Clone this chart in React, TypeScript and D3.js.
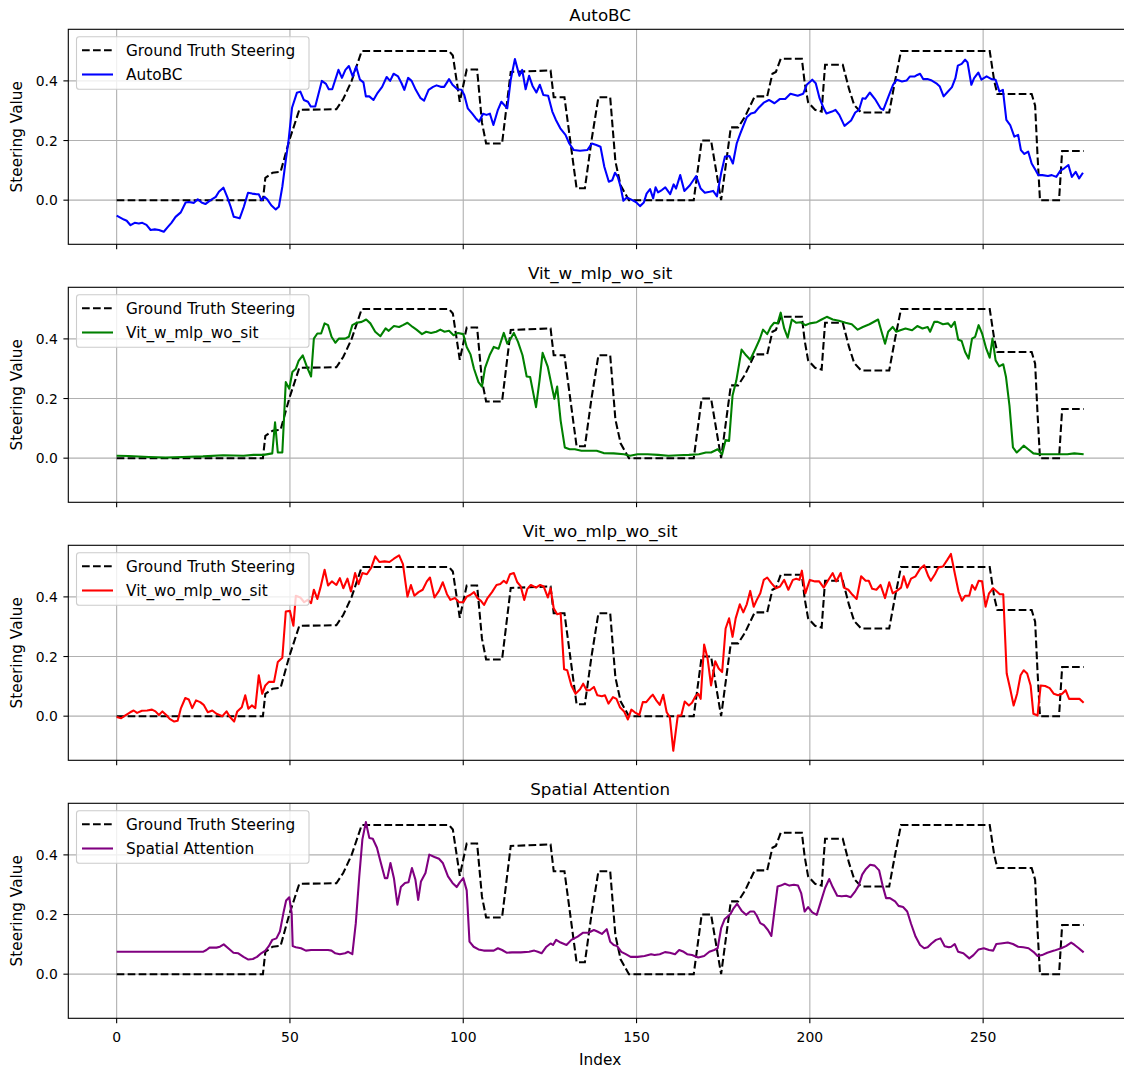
import React from "react";
import * as d3 from "d3";

type Pt = [number, number];

// Ground truth steering (shared by all four panels), read as index/value breakpoints
const gtSteering: Pt[] = [
  [0, 0], [42.2, 0], [42.9, 0.075], [45, 0.092], [47.3, 0.095], [49.8, 0.2], [52.7, 0.303],
  [63.4, 0.305], [65.4, 0.34], [67.8, 0.4], [70.7, 0.5], [95.9, 0.5], [97, 0.485],
  [99, 0.33], [101, 0.438], [104, 0.438], [105.4, 0.26], [106.6, 0.19], [111.2, 0.19],
  [113.7, 0.43], [125.2, 0.435], [126.1, 0.345], [129.2, 0.345], [132.7, 0.04],
  [135.1, 0.04], [137, 0.2], [139, 0.345], [142.4, 0.345], [143.9, 0.13], [145.4, 0.05],
  [147.8, 0], [166.5, 0], [168.8, 0.2], [171.5, 0.2], [174.4, 0], [177.2, 0.244],
  [179.3, 0.244], [181.3, 0.28], [182.8, 0.317], [184.1, 0.348], [187.7, 0.348],
  [189.2, 0.424], [190.2, 0.43], [191.6, 0.474], [197.7, 0.474], [198.5, 0.395],
  [199.5, 0.328], [201.5, 0.303], [203.4, 0.297], [204.4, 0.454], [209.5, 0.454],
  [211.3, 0.373], [212.8, 0.319], [214.8, 0.294], [222.9, 0.294], [224.5, 0.395],
  [226.3, 0.5], [251.9, 0.5], [253.2, 0.4], [254.1, 0.356], [264, 0.356], [265, 0.317],
  [265.7, 0.148], [266.4, 0], [271.9, 0], [272.8, 0.165], [279, 0.165],
];

const autoBc: Pt[] = [
  [0, -0.052], [2.1, -0.065], [2.9, -0.069], [4, -0.084], [5.2, -0.076], [6.4, -0.078],
  [7.4, -0.076], [8.6, -0.083], [9.8, -0.1], [11, -0.098], [12.2, -0.1], [13.6, -0.106],
  [14.6, -0.092], [15.8, -0.076], [17, -0.056], [18.5, -0.041], [19.9, -0.008],
  [20.8, -0.006], [22.3, -0.009], [23.4, 0.003], [24.5, -0.008], [25.6, -0.013], [27.1, 0],
  [28.6, 0.011], [29.5, 0.028], [30.8, 0.042], [31.9, 0.011], [32.9, -0.022],
  [33.8, -0.056], [35.5, -0.061], [36.7, -0.022], [37.9, 0.025], [39.1, 0.022],
  [40.4, 0.02], [41, 0.02], [41.8, 0], [42.7, 0.011], [43.5, 0.002], [44.6, -0.017],
  [45.9, -0.031], [46.8, -0.022], [47.8, 0.045], [48.8, 0.134], [49.6, 0.2], [50.6, 0.31],
  [52, 0.36], [53, 0.364], [54, 0.336], [55.2, 0.33], [56, 0.314], [57.3, 0.314],
  [59.2, 0.4], [60.4, 0.39], [61.2, 0.372], [62.2, 0.372], [64, 0.437], [65, 0.41],
  [66, 0.437], [67, 0.45], [68.1, 0.415], [69.1, 0.448], [70.2, 0.404], [71.2, 0.395],
  [71.9, 0.348], [72.9, 0.348], [74.1, 0.336], [75.3, 0.36], [76.6, 0.38], [77.9, 0.413],
  [78.9, 0.4], [79.9, 0.424], [81.2, 0.415], [82.2, 0.392], [83, 0.37], [84.1, 0.41],
  [85.1, 0.4], [86.3, 0.37], [87.7, 0.342], [88.7, 0.334], [90, 0.37], [91.3, 0.38],
  [92.3, 0.385], [93.5, 0.38], [94.5, 0.38], [95.9, 0.406], [96.9, 0.387], [98.3, 0.372],
  [99.5, 0.37], [100.3, 0.353], [101.3, 0.308], [102.6, 0.29], [103.6, 0.275],
  [104.6, 0.263], [105.7, 0.29], [106.7, 0.286], [107.7, 0.29], [108.7, 0.252],
  [110, 0.303], [111, 0.33], [112.7, 0.308], [113.7, 0.404], [114.9, 0.473],
  [116.2, 0.417], [117, 0.437], [118, 0.372], [119, 0.417], [120, 0.383], [121.1, 0.361],
  [122.1, 0.387], [123.1, 0.353], [124.5, 0.35], [125.7, 0.297], [126.7, 0.27],
  [128, 0.241], [129.5, 0.219], [130.6, 0.19], [131.9, 0.168], [133.7, 0.166],
  [135.8, 0.168], [137.1, 0.19], [138.4, 0.185], [139.6, 0.179], [140.7, 0.112],
  [142, 0.062], [143, 0.067], [143.8, 0.092], [144.6, 0.078], [145.4, 0.045],
  [146.2, -0.002], [147.2, 0.009], [148.5, 0.002], [149.8, -0.006], [151, -0.02],
  [152.1, -0.008], [152.9, 0.022], [153.9, 0.037], [154.8, 0.006], [155.5, 0.043],
  [156.2, 0.026], [157.3, 0.034], [158.3, 0.043], [159.7, 0.02], [160.7, 0.053],
  [161.4, 0.039], [162.6, 0.084], [163.8, 0.031], [165.4, 0.05], [167.2, 0.081],
  [168.5, 0.039], [169.7, 0.025], [171.1, 0.028], [172.1, 0.031], [173.2, 0.013],
  [174.4, 0.09], [175.5, 0.146], [176.8, 0.148], [177.8, 0.123], [178.9, 0.19],
  [179.9, 0.222], [180.9, 0.252], [181.8, 0.278], [183, 0.291], [184.1, 0.294],
  [185.1, 0.308], [186.7, 0.327], [188.2, 0.336], [189.8, 0.325], [191.3, 0.339],
  [192.9, 0.339], [194.4, 0.357], [196.5, 0.35], [198.1, 0.357], [199.1, 0.387],
  [200.7, 0.404], [201.7, 0.392], [202.8, 0.342], [204, 0.308], [204.8, 0.291],
  [206.4, 0.297], [207.4, 0.303], [208.5, 0.286], [210, 0.249], [211.9, 0.267],
  [213.1, 0.294], [214.2, 0.303], [215.2, 0.342], [216, 0.34], [217.3, 0.361],
  [218.8, 0.339], [220.4, 0.308], [221.2, 0.303], [222.7, 0.348], [224, 0.387],
  [225.1, 0.404], [226.6, 0.398], [227.9, 0.401], [228.9, 0.415], [230.3, 0.415],
  [231, 0.42], [231.8, 0.424], [232.7, 0.406], [233.9, 0.406], [235.2, 0.401],
  [236.5, 0.392], [237.5, 0.381], [238.6, 0.348], [239.6, 0.361], [241, 0.379],
  [242, 0.409], [242.7, 0.451], [243.8, 0.457], [244.8, 0.471], [245.5, 0.462],
  [246.6, 0.387], [247.4, 0.409], [248.6, 0.428], [249.5, 0.404], [251, 0.415],
  [252.4, 0.406], [253.6, 0.404], [254.7, 0.364], [255.7, 0.37], [256.7, 0.269],
  [257.8, 0.252], [259, 0.213], [260.1, 0.219], [260.9, 0.168], [261.9, 0.155],
  [263, 0.163], [264, 0.123], [265.1, 0.101], [265.9, 0.084], [267.1, 0.084],
  [268.7, 0.081], [269.8, 0.084], [271.1, 0.078], [272.3, 0.099], [273.4, 0.107],
  [274.6, 0.118], [275.6, 0.078], [276.7, 0.095], [277.7, 0.073], [278.8, 0.092],
];

const vitWMlpWoSit: Pt[] = [
  [0, 0.008], [3.4, 0.007], [9.3, 0.004], [14.1, 0.002], [19, 0.004], [24.9, 0.006],
  [30.7, 0.01], [36.6, 0.008], [39.5, 0.011], [42.4, 0.011], [44.9, 0.016], [45.7, 0.12],
  [46.5, 0.019], [47.8, 0.019], [48.8, 0.255], [49.8, 0.233], [50.7, 0.289], [51.7, 0.3],
  [52.5, 0.326], [53.7, 0.345], [54.9, 0.306], [56.1, 0.274], [56.9, 0.401], [57.9, 0.418],
  [59, 0.418], [60, 0.452], [61, 0.446], [62, 0.407], [63.1, 0.387], [64.1, 0.401],
  [65.9, 0.401], [67, 0.407], [68, 0.446], [69.3, 0.454], [70.7, 0.457], [72, 0.465],
  [73.2, 0.452], [74.6, 0.424], [76.1, 0.409], [77.6, 0.435], [78.5, 0.427], [80, 0.443],
  [81.5, 0.44], [82.6, 0.446], [83.9, 0.454], [85.4, 0.44], [86.5, 0.431], [88.1, 0.416],
  [89.3, 0.424], [90.7, 0.42], [92.2, 0.424], [93.4, 0.431], [94.6, 0.424], [95.9, 0.427],
  [97.2, 0.412], [98.5, 0.42], [100, 0.416], [101, 0.373], [102.1, 0.348], [103.1, 0.3],
  [104.4, 0.255], [105.4, 0.24], [106.3, 0.303], [107.6, 0.345], [108.8, 0.373],
  [110.2, 0.367], [111.7, 0.42], [112.7, 0.384], [113.7, 0.401], [114.6, 0.42],
  [115.8, 0.39], [117.1, 0.345], [118.3, 0.274], [119.3, 0.272], [121, 0.171],
  [122, 0.26], [122.9, 0.353], [124.4, 0.306], [125.6, 0.238], [126.3, 0.199],
  [127.1, 0.24], [128.1, 0.126], [129.3, 0.036], [130.7, 0.03], [132.2, 0.03],
  [134.1, 0.025], [136.1, 0.025], [138.5, 0.025], [140.5, 0.017], [143.4, 0.016],
  [146.4, 0.013], [148.1, 0.008], [150.3, 0.013], [153.2, 0.013], [156.2, 0.011],
  [159.2, 0.008], [162.1, 0.01], [165.1, 0.011], [168, 0.013], [170, 0.019],
  [171.5, 0.019], [173.4, 0.03], [174.7, 0.013], [175.7, 0.061], [176.7, 0.058],
  [177.7, 0.21], [178.8, 0.261], [180.3, 0.364], [181.6, 0.345], [182.8, 0.33],
  [184.3, 0.367], [185.5, 0.398], [186.5, 0.431], [187.7, 0.416], [188.7, 0.44],
  [189.7, 0.454], [190.7, 0.452], [191.6, 0.488], [192.6, 0.435], [193.6, 0.404],
  [194.8, 0.465], [196.1, 0.454], [197.3, 0.456], [198.7, 0.446], [200, 0.452],
  [202, 0.456], [203.4, 0.465], [204.9, 0.474], [206.6, 0.465], [208.4, 0.461],
  [210.3, 0.454], [212.1, 0.449], [213.8, 0.431], [215.3, 0.44], [217.2, 0.449],
  [219.7, 0.465], [220.7, 0.424], [221.7, 0.384], [222.6, 0.424], [223.9, 0.44],
  [224.9, 0.424], [226.1, 0.429], [227.6, 0.435], [229.5, 0.429], [231, 0.443],
  [232.5, 0.435], [234, 0.44], [234.7, 0.424], [235.9, 0.457], [236.9, 0.457],
  [238.4, 0.449], [239.9, 0.452], [240.8, 0.44], [241.8, 0.457], [242.8, 0.398],
  [243.8, 0.393], [244.8, 0.356], [245.8, 0.334], [246.8, 0.401], [247.7, 0.407],
  [248.7, 0.446], [249.7, 0.418], [250.9, 0.367], [251.9, 0.337], [252.7, 0.401],
  [253.6, 0.328], [254.6, 0.308], [255.8, 0.315], [256.6, 0.272], [257.6, 0.176],
  [258.6, 0.036], [259.7, 0.019], [260.7, 0.03], [261.7, 0.042], [263, 0.03],
  [264.5, 0.016], [266.4, 0.013], [270.4, 0.013], [274.3, 0.013], [276.3, 0.016],
  [279, 0.013],
];

const vitWoMlpWoSit: Pt[] = [
  [0, -0.003], [1.3, -0.007], [2.4, 0.002], [3.9, 0.013], [4.9, 0.019], [5.9, 0.011],
  [7.3, 0.018], [8.8, 0.019], [10.2, 0.022], [11.2, 0.016], [12.2, 0.004], [13.2, 0.016],
  [14.3, 0.004], [15.3, -0.009], [16.6, -0.018], [17.6, -0.015], [18.5, 0.025],
  [19.8, 0.061], [20.8, 0.056], [21.8, 0.027], [22.9, 0.053], [24.1, 0.047], [25.1, 0.038],
  [26.3, 0.013], [27.6, 0.019], [28.8, 0.008], [30.5, 0], [31.7, 0.016], [32.7, -0.003],
  [33.9, -0.018], [34.8, 0.016], [36.1, 0.03], [37.1, 0.07], [38, 0.025], [39, 0.036],
  [40, 0.027], [41, 0.137], [42, 0.075], [42.9, 0.103], [43.9, 0.115], [45.4, 0.115],
  [46.5, 0.182], [47.8, 0.196], [48.8, 0.351], [50, 0.353], [51, 0.303], [51.7, 0.404],
  [53, 0.398], [54.1, 0.382], [55.1, 0.39], [56.1, 0.379], [56.9, 0.424], [57.9, 0.393],
  [58.8, 0.431], [60, 0.491], [61, 0.438], [62.1, 0.452], [63.4, 0.44], [64.4, 0.463],
  [65.4, 0.429], [66.6, 0.461], [67.6, 0.418], [68.8, 0.48], [69.8, 0.443], [70.9, 0.48],
  [72.2, 0.476], [73.5, 0.499], [74.6, 0.536], [75.8, 0.517], [77.3, 0.519], [78.7, 0.517],
  [80, 0.528], [81.5, 0.539], [82.6, 0.51], [83.9, 0.401], [84.9, 0.44], [85.9, 0.404],
  [87.1, 0.416], [88.3, 0.424], [89.5, 0.452], [90.4, 0.465], [91.7, 0.398], [93, 0.42],
  [94.1, 0.449], [95.3, 0.409], [96.3, 0.39], [97.6, 0.396], [98.8, 0.382], [100, 0.382],
  [101, 0.401], [102.1, 0.407], [103.1, 0.416], [104.1, 0.396], [105.1, 0.387],
  [106, 0.373], [107, 0.396], [108.3, 0.416], [109.6, 0.44], [110.7, 0.443],
  [111.7, 0.454], [112.5, 0.446], [113.5, 0.476], [114.6, 0.48], [115.6, 0.449],
  [116.6, 0.435], [117.6, 0.39], [118.5, 0.427], [119.5, 0.44], [121, 0.431],
  [122.2, 0.44], [123.2, 0.435], [124.4, 0.398], [125.2, 0.429], [126.1, 0.362],
  [127.1, 0.342], [128.1, 0.345], [129.1, 0.157], [130, 0.154], [131.2, 0.103],
  [132.4, 0.075], [133.7, 0.09], [134.6, 0.109], [135.6, 0.087], [136.5, 0.087],
  [137.7, 0.098], [138.7, 0.07], [140, 0.067], [140.9, 0.07], [141.9, 0.042],
  [143.2, 0.064], [144.2, 0.058], [145.2, 0.03], [146.4, 0.016], [147.5, -0.011],
  [148.5, 0.022], [149.5, 0.013], [150.8, 0.004], [151.8, 0.047], [152.8, 0.047],
  [154, 0.064], [154.7, 0.072], [155.7, 0.053], [156.7, 0.038], [157.7, 0.072],
  [158.7, 0.013], [159.6, -0.003], [160.6, -0.116], [161.9, 0.002], [162.9, 0.002],
  [163.9, 0.049], [165.1, 0.036], [166, 0.045], [167, 0.067], [167.8, 0.075],
  [168.5, 0.058], [169.5, 0.24], [170.5, 0.193], [171.5, 0.103], [172.7, 0.184],
  [173.7, 0.16], [174.7, 0.148], [175.7, 0.294], [176.7, 0.328], [177.7, 0.266],
  [178.6, 0.328], [179.8, 0.375], [180.8, 0.348], [181.8, 0.375], [182.8, 0.42],
  [183.8, 0.367], [184.7, 0.39], [185.7, 0.412], [186.7, 0.457], [187.7, 0.465],
  [188.9, 0.446], [190.2, 0.429], [191.4, 0.435], [192.6, 0.457], [193.8, 0.424],
  [195.1, 0.457], [196.1, 0.461], [197, 0.457], [197.7, 0.488], [198.7, 0.412],
  [200, 0.457], [201.5, 0.452], [202.7, 0.452], [204, 0.431], [205.2, 0.454],
  [206.6, 0.48], [207.6, 0.452], [208.9, 0.48], [209.8, 0.431], [211.1, 0.424],
  [212.3, 0.407], [213.5, 0.393], [214.8, 0.469], [216.1, 0.454], [217, 0.454],
  [218, 0.427], [219.2, 0.424], [220.4, 0.44], [221.7, 0.396], [222.9, 0.449],
  [223.9, 0.412], [225.1, 0.42], [226.3, 0.431], [227.1, 0.469], [228.1, 0.431],
  [229.2, 0.461], [230.5, 0.469], [231.8, 0.494], [233, 0.506], [234.2, 0.469],
  [234.9, 0.454], [236.1, 0.476], [237.1, 0.499], [238.4, 0.502], [239.7, 0.525],
  [240.7, 0.544], [241.9, 0.474], [242.9, 0.418], [243.9, 0.387], [244.8, 0.404],
  [246, 0.404], [246.8, 0.44], [247.7, 0.424], [248.7, 0.454], [249.7, 0.452],
  [250.7, 0.367], [251.7, 0.412], [252.9, 0.429], [253.8, 0.42], [254.8, 0.409],
  [255.8, 0.409], [256.8, 0.143], [257.8, 0.092], [258.8, 0.036], [259.8, 0.075],
  [260.8, 0.137], [261.7, 0.154], [262.7, 0.143], [263.7, 0.103], [264.5, 0.008],
  [265.7, 0.002], [266.6, 0.103], [267.9, 0.101], [269.2, 0.094], [270.4, 0.075],
  [271.6, 0.07], [272.8, 0.075], [273.8, 0.087], [274.8, 0.058], [276.3, 0.058],
  [277.8, 0.058], [279, 0.045],
];

const spatialAttention: Pt[] = [
  [0, 0.075], [8.3, 0.075], [17.1, 0.075], [24.9, 0.075], [25.9, 0.081], [26.8, 0.089],
  [28.8, 0.089], [29.8, 0.092], [30.9, 0.1], [32.2, 0.087], [33.7, 0.072], [35.1, 0.07],
  [36.6, 0.058], [38, 0.049], [39.3, 0.051], [40.5, 0.058], [41.7, 0.07], [42.9, 0.079],
  [43.9, 0.094], [44.9, 0.115], [46.1, 0.12], [47.1, 0.143], [48.1, 0.204], [48.9, 0.247],
  [49.8, 0.258], [50.5, 0.204], [50.8, 0.094], [51.7, 0.09], [53.2, 0.087], [54.6, 0.079],
  [56.1, 0.081], [57.6, 0.081], [59, 0.081], [61, 0.081], [62, 0.079], [63.1, 0.07],
  [64.4, 0.067], [65.9, 0.07], [66.8, 0.075], [68, 0.067], [69, 0.171], [70, 0.328],
  [70.9, 0.452], [71.9, 0.51], [72.9, 0.457], [73.9, 0.454], [75.1, 0.424], [76.1, 0.379],
  [77.4, 0.322], [78.1, 0.322], [79, 0.373], [80, 0.322], [81, 0.233], [82, 0.292],
  [83.2, 0.306], [84.2, 0.308], [85.2, 0.356], [86.2, 0.317], [87, 0.249], [87.8, 0.311],
  [89.1, 0.339], [90.2, 0.401], [91.7, 0.393], [93, 0.387], [94.1, 0.373], [95.6, 0.328],
  [96.9, 0.306], [98.1, 0.292], [99, 0.308], [100, 0.322], [101, 0.281], [101.8, 0.109],
  [103, 0.092], [104.4, 0.083], [105.9, 0.079], [107.3, 0.079], [108.8, 0.079],
  [110, 0.087], [111.2, 0.081], [112.5, 0.072], [114.1, 0.073], [116.6, 0.073],
  [119, 0.075], [120.5, 0.079], [121.5, 0.075], [122.6, 0.07], [124, 0.092],
  [125.2, 0.103], [125.9, 0.098], [126.8, 0.115], [128.1, 0.106], [129.8, 0.098],
  [131.2, 0.115], [133, 0.126], [134.6, 0.139], [136.1, 0.139], [137.7, 0.148],
  [138.7, 0.143], [140, 0.135], [141.4, 0.151], [142.4, 0.109], [143.4, 0.098],
  [144.4, 0.094], [145.6, 0.075], [146.9, 0.067], [148.3, 0.058], [150.3, 0.058],
  [152.3, 0.061], [154.2, 0.067], [155.2, 0.064], [156.7, 0.067], [158.2, 0.074],
  [159.6, 0.072], [161.1, 0.067], [162.3, 0.081], [163.6, 0.075], [164.6, 0.067],
  [166, 0.064], [167.8, 0.056], [169.5, 0.061], [171, 0.075], [172.4, 0.081],
  [173.4, 0.087], [174.4, 0.154], [175.4, 0.184], [177.1, 0.202], [178, 0.221],
  [179, 0.236], [180.3, 0.213], [181.6, 0.199], [182.8, 0.21], [183.9, 0.21],
  [184.7, 0.196], [185.7, 0.171], [186.7, 0.165], [187.9, 0.148], [188.9, 0.128],
  [189.7, 0.204], [190.7, 0.294], [191.6, 0.297], [192.8, 0.303], [194.1, 0.297],
  [195.4, 0.3], [196.6, 0.297], [197.5, 0.272], [198.5, 0.21], [199.5, 0.225],
  [200.7, 0.207], [202, 0.199], [203.2, 0.244], [204.4, 0.289], [205.6, 0.319],
  [206.6, 0.292], [207.9, 0.263], [209.2, 0.261], [210.5, 0.263], [211.8, 0.258],
  [213.1, 0.278], [214.1, 0.297], [215.1, 0.334], [216.2, 0.353], [217.4, 0.367],
  [218.7, 0.364], [220, 0.348], [221, 0.297], [222, 0.255], [223.1, 0.255],
  [224.6, 0.244], [225.6, 0.229], [226.9, 0.225], [228.1, 0.21], [229.2, 0.169],
  [230.5, 0.126], [231.8, 0.098], [233, 0.087], [234, 0.09], [235.1, 0.103],
  [236.4, 0.115], [237.7, 0.12], [238.9, 0.094], [240.1, 0.09], [240.8, 0.092],
  [241.8, 0.101], [242.8, 0.075], [244.3, 0.07], [246, 0.053], [247.2, 0.064],
  [248.7, 0.083], [250.2, 0.087], [251.7, 0.081], [252.9, 0.079], [253.8, 0.101],
  [255.1, 0.103], [257.1, 0.106], [258.6, 0.101], [260.1, 0.092], [261.6, 0.09],
  [263.1, 0.087], [264.5, 0.075], [265.7, 0.061], [267, 0.064], [268.5, 0.072],
  [270.5, 0.079], [272.5, 0.087], [273.9, 0.094], [275.4, 0.106], [276.4, 0.098],
  [277.6, 0.087], [279, 0.073],
];

const panelTitles = ["AutoBC", "Vit_w_mlp_wo_sit", "Vit_wo_mlp_wo_sit", "Spatial Attention"];
const panelColors = ["blue", "green", "red", "purple"];
const panelSeries = [autoBc, vitWMlpWoSit, vitWoMlpWoSit, spatialAttention];
const gtLabel = "Ground Truth Steering";
const xTicks = [0, 50, 100, 150, 200, 250];
const yTicks = [0.0, 0.2, 0.4];

const W = 1124;
const H = 1072;
const FONT = "'DejaVu Sans', sans-serif";

export default function App() {
  const left = 68.3;
  const right = 1132;
  const firstTop = 29.3;
  const panelH = 215;
  const step = 258;
  const tickLen = 4.9;
  const tickFont = 13.9; // 10pt
  const labelFont = 15.3; // 11pt
  const titleFont = 16.7; // 12pt

  const x = d3.scaleLinear().domain([-13.95, 292.95]).range([left, right]);

  return (
    <svg
      width={W}
      height={H}
      style={{ position: "absolute", left: 0, top: 0, display: "block" }}
      fontFamily={FONT}
    >
      <rect width={W} height={H} fill="#ffffff" />
      {panelSeries.map((data, i) => {
        const top = firstTop + i * step;
        const bottom = top + panelH;
        const y = d3.scaleLinear().domain([-0.148, 0.573]).range([bottom, top]);
        const line = d3
          .line<Pt>()
          .x((d) => x(d[0]))
          .y((d) => y(d[1]));
        const clipId = `clip-${i}`;
        const isLast = i === panelSeries.length - 1;
        return (
          <g key={i}>
            <defs>
              <clipPath id={clipId}>
                <rect x={left} y={top} width={right - left} height={panelH} />
              </clipPath>
            </defs>
            {/* grid */}
            {xTicks.map((t) => (
              <line key={"gx" + t} x1={x(t)} x2={x(t)} y1={top} y2={bottom} stroke="#b0b0b0" strokeWidth={1.1} />
            ))}
            {yTicks.map((t) => (
              <line key={"gy" + t} x1={left} x2={right} y1={y(t)} y2={y(t)} stroke="#b0b0b0" strokeWidth={1.1} />
            ))}
            <g clipPath={`url(#${clipId})`}>
              <path d={line(gtSteering) || ""} fill="none" stroke="black" strokeWidth={2.08} strokeDasharray="7.7 3.3" />
              <path d={line(data) || ""} fill="none" stroke={panelColors[i]} strokeWidth={2.08} strokeLinejoin="round" />
            </g>
            {/* spines */}
            <rect x={left} y={top} width={right - left} height={panelH} fill="none" stroke="black" strokeWidth={1.1} />
            {/* ticks */}
            {xTicks.map((t) => (
              <line key={"tx" + t} x1={x(t)} x2={x(t)} y1={bottom} y2={bottom + tickLen} stroke="black" strokeWidth={1.1} />
            ))}
            {yTicks.map((t) => (
              <g key={"ty" + t}>
                <line x1={left - tickLen} x2={left} y1={y(t)} y2={y(t)} stroke="black" strokeWidth={1.1} />
                <text x={left - 10.5} y={y(t)} dy="0.36em" textAnchor="end" fontSize={tickFont} fill="#000">
                  {d3.format(".1f")(t)}
                </text>
              </g>
            ))}
            {isLast &&
              xTicks.map((t) => (
                <text key={"lx" + t} x={x(t)} y={bottom + 23.2} textAnchor="middle" fontSize={tickFont} fill="#000">
                  {t}
                </text>
              ))}
            <text
              transform={`translate(${16.3},${(top + bottom) / 2}) rotate(-90)`}
              dy="0.36em"
              textAnchor="middle"
              fontSize={labelFont}
              fill="#000"
            >
              Steering Value
            </text>
            <text x={(left + right) / 2} y={top - 8.3} textAnchor="middle" fontSize={titleFont} fill="#000">
              {panelTitles[i]}
            </text>
            {/* legend */}
            <g>
              <rect x={76.5} y={top + 7.5} width={232.5} height={52.5} rx={2.8} fill="#ffffff" fillOpacity={0.8} stroke="#cccccc" strokeWidth={1.1} />
              <line x1={82} x2={113} y1={top + 21} y2={top + 21} stroke="black" strokeWidth={2.08} strokeDasharray="7.7 3.3" />
              <text x={126} y={top + 21} dy="0.36em" fontSize={labelFont} fill="#000">{gtLabel}</text>
              <line x1={82} x2={113} y1={top + 45.2} y2={top + 45.2} stroke={panelColors[i]} strokeWidth={2.08} />
              <text x={126} y={top + 45.2} dy="0.36em" fontSize={labelFont} fill="#000">{panelTitles[i]}</text>
            </g>
          </g>
        );
      })}
      <text x={(left + right) / 2} y={1065} textAnchor="middle" fontSize={labelFont} fill="#000">
        Index
      </text>
    </svg>
  );
}
